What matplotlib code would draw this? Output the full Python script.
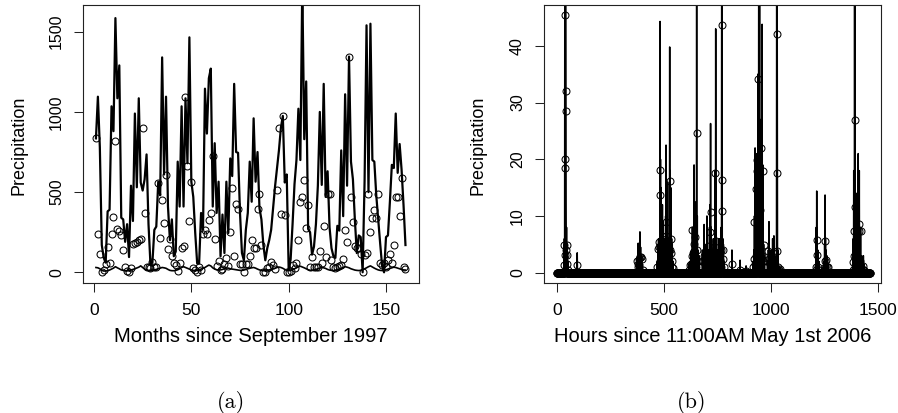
import numpy as np
import matplotlib.pyplot as plt

plt.rcParams['font.family'] = ['Liberation Sans', 'DejaVu Sans']

# ---- panel (a): monthly precipitation, 160 months ----
months = np.arange(1, 161)

# observed monthly totals (circles)
monthly_obs = [835, 237, 112, 5, 15, 52, 156, 60, 237, 343, 820, 272,
               255, 233, 137, 30, 10, 0, 25, 175, 180, 190, 200, 208,
               898, 368, 35, 35, 25, 66, 35, 35, 555, 212, 450, 305,
               607, 143, 210, 100, 56, 45, 10, 55, 150, 165, 1090, 660,
               322, 565, 25, 15, 5, 35, 15, 240, 265, 237, 325, 368,
               727, 205, 40, 73, 15, 20, 50, 90, 40, 253, 528, 104,
               424, 397, 50, 50, 0, 50, 50, 104, 200, 152, 150, 395,
               490, 170, 5, 5, 25, 35, 65, 45, 20, 513, 898, 364,
               975, 357, 5, 5, 10, 45, 25, 60, 200, 436, 472, 575,
               275, 420, 35, 98, 35, 35, 35, 130, 60, 290, 98, 490,
               490, 77, 35, 25, 35, 40, 45, 80, 265, 190, 1345, 470,
               315, 165, 150, 150, 115, 5, 108, 118, 490, 253, 337, 390,
               337, 490, 55, 45, 56, 35, 77, 114, 60, 170, 470, 470,
               350, 585, 35, 20]

# upper band (thick line)
monthly_upper = [835, 1095, 780, 170, 90, 60, 380, 390, 1035, 880, 1585, 1085,
                 1290, 340, 330, 190, 300, 95, 540, 320, 990, 530, 1085, 560,
                 510, 580, 735, 300, 50, 60, 265, 285, 565, 480, 1340, 610,
                 1095, 410, 200, 330, 100, 130, 690, 410, 1035, 410, 1085, 680,
                 1465, 565, 470, 245, 55, 55, 370, 265, 1145, 865, 1210, 1270,
                 410, 805, 370, 565, 100, 360, 120, 565, 245, 710, 600, 1175,
                 750, 745, 370, 120, 75, 265, 370, 690, 440, 960, 565, 750,
                 400, 330, 170, 75, 150, 200, 265, 400, 535, 650, 760, 900,
                 975, 560, 610, 15, 80, 300, 550, 700, 1020, 700, 1800, 830,
                 1190, 270, 250, 110, 160, 300, 540, 1000, 545, 1175, 470, 630,
                 280, 150, 100, 90, 290, 260, 760, 350, 1110, 540, 1345, 690,
                 580, 330, 120, 230, 220, 0, 570, 1540, 500, 1550, 700, 690,
                 480, 330, 180, 40, 0, 220, 230, 440, 670, 650, 990, 620,
                 800, 640, 420, 170]

# lower band (thin line near zero)
monthly_lower = [30, 28, 22, 12, 8, 8, 10, 14, 20, 26, 35, 28,
                 22, 15, 12, 10, 9, 10, 14, 18, 22, 27, 32, 40,
                 30, 20, 14, 12, 10, 12, 15, 18, 22, 26, 30, 28,
                 25, 18, 12, 10, 10, 12, 16, 22, 30, 35, 30, 25,
                 20, 15, 12, 11, 12, 15, 20, 25, 30, 38, 45, 40,
                 28, 20, 16, 14, 15, 18, 22, 27, 26, 22, 20, 18,
                 16, 14, 12, 12, 14, 18, 22, 25, 28, 30, 26, 20,
                 15, 12, 10, 10, 12, 15, 18, 22, 26, 30, 33, 30,
                 25, 18, 12, 10, 12, 16, 22, 28, 35, 38, 33, 28,
                 22, 16, 13, 12, 14, 18, 22, 26, 30, 28, 24, 18,
                 14, 12, 11, 12, 15, 20, 25, 30, 35, 32, 28, 22,
                 18, 14, 12, 11, 12, 16, 22, 28, 35, 40, 33, 26,
                 20, 15, 12, 11, 13, 16, 20, 24, 28, 32, 30, 26,
                 22, 18, 15, 14]

# ---- panel (b): hourly precipitation, 1464 hours, mostly dry ----
n_hours = 1464
# wet hours only: hour index, observed value, upper band value
wet_hours = [34, 36, 38, 39, 40, 41, 42, 43, 44, 46, 48, 50, 53,
             96,
             374, 378, 381, 386, 389, 392, 397, 401,
             470, 474, 476, 479, 481, 483, 485, 488, 490, 494, 497, 500,
             505, 509, 511, 514, 518, 522, 528, 530, 533, 535, 537, 540, 543,
             618, 623, 627, 630, 634, 638, 642, 646, 650, 654, 657, 660, 665,
             681, 685, 689, 693, 697, 702, 706, 710, 714, 717, 719, 722, 726,
             732, 737, 741, 743, 747, 751, 755, 759, 762, 766, 769, 771, 772,
             773, 776, 779, 782,
             819, 857, 885,
             918, 921, 924, 927, 930, 932, 935, 936, 938, 940, 942, 944, 946,
             948, 950, 952, 955, 958, 960, 963, 965, 967, 971,
             985, 989, 992, 996, 1001, 1005, 1009, 1012, 1015, 1019, 1023,
             1028, 1030, 1031, 1034, 1038, 1044,
             1210, 1213, 1215, 1217, 1220, 1225, 1250, 1252, 1254, 1256, 1258,
             1262, 1270,
             1384, 1386, 1388, 1390, 1392, 1394, 1395, 1398, 1402, 1406, 1409,
             1412, 1414, 1417, 1420, 1424, 1430, 1433, 1436]
wet_obs = [1.4, 4.9, 18.5, 45.4, 3.1, 20.0, 32.0, 28.5, 4.0, 4.9, 3.1, 1.5, 0.5,
           1.3,
           2.0, 1.0, 1.5, 2.5, 2.8, 2.8, 2.5, 0.5,
           1.0, 4.2, 5.4, 4.5, 2.0, 13.7, 18.1, 2.0, 1.0, 6.0, 3.0, 1.5,
           2.5, 6.5, 9.0, 5.0, 3.0, 2.0, 4.0, 16.2, 6.0, 3.5, 2.0, 1.0, 0.8,
           0.5, 1.3, 1.5, 3.0, 7.6, 3.5, 5.0, 6.3, 1.0, 24.7, 4.0, 2.0, 1.0,
           1.0, 2.0, 3.0, 1.5, 2.0, 3.5, 1.0, 2.5, 4.7, 7.2, 10.7, 2.0, 1.0,
           2.0, 1.0, 17.5, 5.5, 2.5, 1.0, 1.5, 2.0, 2.2, 1.0, 4.0, 43.6, 16.3,
           10.8, 2.5, 4.0, 1.0,
           1.5, 0.5, 0.3,
           1.0, 2.4, 9.0, 1.5, 3.0, 14.8, 19.8, 18.0, 2.0, 34.2, 4.0, 1.0, 5.0,
           11.0, 3.0, 2.0, 22.0, 3.0, 2.5, 18.0, 2.0, 4.8, 1.0,
           1.0, 3.8, 2.5, 1.5, 1.0, 1.5, 2.0, 3.5, 2.2, 1.0, 0.5,
           3.8, 42.0, 17.5, 1.0, 0.5, 0.6,
           0.5, 1.0, 5.8, 3.2, 1.0, 0.5, 0.5, 1.0, 5.5, 2.0, 2.2,
           1.0, 1.0,
           0.5, 1.8, 7.3, 3.0, 1.0, 27.0, 11.5, 3.0, 1.0, 2.0, 1.0,
           7.3, 8.6, 2.0, 7.3, 1.0, 0.5, 1.2, 0.5]
wet_upper = [4.8, 6, 60, 60, 60, 48, 60, 45, 12.2, 8, 5, 3, 2,
             3.5,
             2.5, 3, 5.2, 4, 7.2, 4.5, 3, 1.5,
             2, 5, 6, 4, 3, 44.3, 20, 15, 3, 12, 9, 5,
             6, 10, 22.5, 9, 16, 6, 39.8, 18, 15, 9, 6, 5, 2,
             1.5, 2, 3.7, 4, 8, 5, 19, 12.5, 4, 60, 10, 4, 3,
             4, 3, 8.5, 4, 5, 10, 3, 4, 8, 12, 26.3, 8, 4,
             6, 4, 18, 43, 6, 4, 3, 6, 5, 3, 8, 60, 45,
             20, 6, 5, 2,
             4, 2.2, 1.2,
             2, 4, 10, 22, 8, 15, 20, 21, 8, 35, 30, 60, 27,
             60, 10, 27, 22.5, 8, 43.8, 19, 6, 5, 3,
             2, 4, 9, 3, 4, 3, 6, 4, 6.5, 3, 2,
             60, 60, 20, 4, 1.2, 1,
             1.5, 8, 14.4, 6, 4, 2, 2, 5, 13.7, 6, 4,
             3, 1.5,
             2, 6, 18, 7, 60, 60, 12, 5, 14, 6, 21,
             10, 18, 6, 8, 3, 2, 3, 1.5]

hours = np.arange(1, n_hours + 1)
hourly_obs = np.zeros(n_hours)
hourly_upper = np.zeros(n_hours)
hourly_obs[np.array(wet_hours) - 1] = wet_obs
hourly_upper[np.array(wet_hours) - 1] = wet_upper

W, H = 898, 413
fig = plt.figure(figsize=(W / 100, H / 100), dpi=100)


def px_axes(x0, y0, x1, y1):
    # axes box given in pixel coords (origin top-left)
    return fig.add_axes([x0 / W, 1 - y1 / H, (x1 - x0) / W, (y1 - y0) / H])


def r_style(ax, xticks, yticks):
    for s in ax.spines.values():
        s.set_linewidth(0.8)
        s.set_color('#222222')
    ax.set_xticks(xticks)
    ax.set_yticks(yticks)
    ax.set_xticklabels([str(t) for t in xticks])
    ax.set_yticklabels([str(t) for t in yticks], rotation=90, va='center')
    ax.tick_params(direction='out', length=6.7, width=0.75, color='#222222')
    ax.tick_params(axis='x', labelsize=12.5, pad=8)
    ax.tick_params(axis='y', labelsize=11.5, pad=7)


mk = dict(marker='o', linestyle='none', mfc='none', mec='black', ms=5.0, mew=0.75)

# (a)
ax1 = px_axes(83, 5, 419, 283)
ax1.plot(months, monthly_obs, **mk)
ax1.plot(months, monthly_upper, color='black', lw=1.6)
ax1.plot(months, monthly_lower, color='black', lw=1.2)
ax1.set_xlim(-5.65, 166.95)
ax1.set_ylim(-66.7, 1666.7)
r_style(ax1, [0, 50, 100, 150], [0, 500, 1000, 1500])

# (b)
ax2 = px_axes(544, 5, 881, 283)
ax2.plot(hours, hourly_obs, **mk)
ax2.plot(hours, hourly_upper, color='black', lw=1.1)
ax2.set_xlim(-59.3, 1515.4)
ax2.set_ylim(-1.82, 47.2)
r_style(ax2, [0, 500, 1000, 1500], [0, 10, 20, 30, 40])

# labels placed in pixel coords
fig.text(19 / W, 1 - 145 / H, 'Precipitation', rotation=90, fontsize=13,
         ha='center', va='center')
fig.text(478 / W, 1 - 145 / H, 'Precipitation', rotation=90, fontsize=13,
         ha='center', va='center')
fig.text(251 / W, 1 - 336 / H, 'Months since September 1997', fontsize=14.5,
         ha='center', va='center')
fig.text(713 / W, 1 - 336 / H, 'Hours since 11:00AM May 1st 2006', fontsize=14.5,
         ha='center', va='center')
fig.text(231 / W, 1 - 403 / H, '(a)', family='cmr10', fontsize=16,
         ha='center', va='center')
fig.text(692 / W, 1 - 403 / H, '(b)', family='cmr10', fontsize=16,
         ha='center', va='center')

fig.savefig('out.png', dpi=100)
